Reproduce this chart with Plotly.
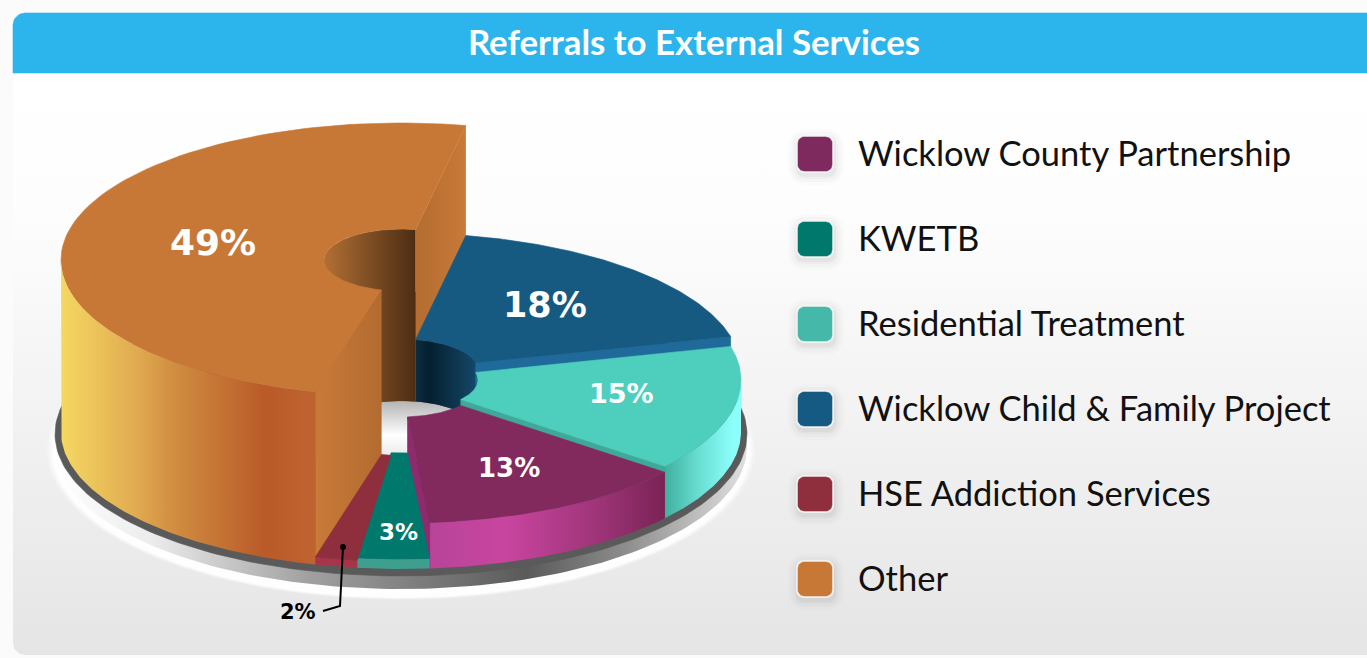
import numpy as np
import plotly.graph_objects as go

# ---- data ----
categories = ["Wicklow County Partnership", "KWETB", "Residential Treatment",
              "Wicklow Child & Family Project", "HSE Addiction Services", "Other"]
shares = [12.8, 3.4, 14.8, 18.0, 2.0, 49.0]
top_colors = ["#822A5E", "#00796C", "#4ECFBE", "#165A82", "#8F2F3E", "#C87836"]
key_colors = ["#7F2A5F", "#00786C", "#46B8A9", "#155A82", "#8F2F3E", "#C87836"]

# ---- styling ----
W, H = 1367, 658
CX, RX, RY = 401.0, 340.0, 137.0
HOLE = 0.2265
START = 11.0
BASE = 432.0
draw_clockwise = [3, 2, 0, 1, 4, 5]
level = {0: 386, 1: 422, 2: 380, 3: 370, 4: 424.5, 5: 260}
label_pos = {0: (0.676, 0, 1), 1: (0.80, 0, 4), 2: (0.665, -6, 0), 3: (0.617, -4, 0), 5: (0.567, 0, 0)}
label_size = {0: 26, 1: 23, 2: 27, 3: 35, 5: 36}
side_colors = {1: "#3F9F8F", 2: "#3FA898", 3: "#1F6A9A", 4: "#A8344A"}
FONT = "Lato"
PCT = "DejaVu Sans"

# slice angles, clockwise from the top, in degrees
spans = {}
a = START
for i in draw_clockwise:
    spans[i] = (a, a + shares[i] * 3.6)
    a += shares[i] * 3.6


def P(theta, r, cy):
    t = np.radians(theta)
    return CX + r * RX * np.sin(t), cy - r * RY * np.cos(t)


def arc(t0, t1, r, cy, n=90):
    th = np.linspace(t0, t1, n)
    return P(th, r, cy)


fig = go.Figure()


def poly(x, y, color=None, grad=None, opacity=1.0, name=None):
    x = list(x) + [x[0]]
    y = list(y) + [y[0]]
    kw = dict(x=x, y=y, mode="lines", fill="toself", hoverinfo="skip",
              showlegend=False, opacity=opacity)
    if name:
        kw["name"] = name
    if grad:
        kw["line"] = dict(width=0)
        kw["fillgradient"] = dict(type=grad[0], start=grad[1], stop=grad[2], colorscale=grad[3])
    else:
        kw["fillcolor"] = color
        kw["line"] = dict(width=0.6 if opacity == 1.0 else 0, color=color)
    fig.add_trace(go.Scatter(**kw))


def rrect(x0, y0, x1, y1, r, corners=(1, 1, 1, 1)):
    xs, ys = [], []
    cs = [(x0 + r, y0 + r, 180, 270, corners[0]), (x1 - r, y0 + r, 270, 360, corners[1]),
          (x1 - r, y1 - r, 0, 90, corners[2]), (x0 + r, y1 - r, 90, 180, corners[3])]
    sq = [(x0, y0), (x1, y0), (x1, y1), (x0, y1)]
    for (cx, cy, a0, a1, on), s in zip(cs, sq):
        if on:
            t = np.radians(np.linspace(a0, a1, 12))
            xs += list(cx + r * np.cos(t))
            ys += list(cy + r * np.sin(t))
        else:
            xs.append(s[0])
            ys.append(s[1])
    return xs, ys


def ellipse(cx, cy, rx, ry):
    t = np.linspace(0, 2 * np.pi, 240)
    return cx + rx * np.cos(t), cy + ry * np.sin(t)


def wedge(i):
    t0, t1 = spans[i]
    x1, y1 = arc(t0, t1, 1, level[i])
    x2, y2 = arc(t1, t0, HOLE, level[i])
    poly(np.r_[x1, x2], np.r_[y1, y2], top_colors[i], name=categories[i])


def face(i, theta, color=None, grad=None):
    cy = level[i]
    xa, ya = P(theta, HOLE, cy)
    xb, yb = P(theta, 1, cy)
    xc, yc = P(theta, 1, BASE)
    xd, yd = P(theta, HOLE, BASE)
    poly([xa, xb, xc, xd], [ya, yb, yc, yd], color, grad)


def wall(i, t0, t1, grad, r=1.0):
    x1, y1 = arc(t0, t1, r, level[i])
    x2, y2 = arc(t1, t0, r, BASE)
    poly(np.r_[x1, x2], np.r_[y1, y2], grad=grad)


# card
x, y = rrect(13, 13, 1400, 655, 12, (1, 0, 0, 1))
poly(x, y, grad=("vertical", 70, 655, [[0, "#FFFFFF"], [0.25, "#FDFDFD"], [0.6, "#F2F2F2"], [1, "#E5E5E5"]]))
x, y = rrect(13, 13, 1400, 73, 12, (1, 0, 0, 0))
poly(x, y, "#2CB5EC")

# plate under the pie
for grow, op in [(7, 0.25), (5, 0.35), (3, 0.5), (1.5, 0.8)]:
    x, y = ellipse(401, 450, 347 + grow, 147 + grow * 0.4)
    poly(x, y, "#FFFFFF", opacity=op)
x, y = ellipse(401, 447, 346, 142)
poly(x, y, grad=("horizontal", 55, 748,
                 [[0, "#FFFFFF"], [0.14, "#ECECEC"], [0.36, "#A2A2A2"], [0.68, "#5A5A5A"],
                  [0.82, "#8C8C8C"], [1, "#E0E0E0"]]))
x, y = ellipse(401, 434, 346, 142)
poly(x, y, "#5A5A5A")

# floor of the central hole
x, y = ellipse(CX, BASE, HOLE * RX, HOLE * RY)
poly(x, y, grad=("vertical", 401, 463, [[0, "#B4B4B4"], [0.55, "#FFFFFF"], [1, "#E4E4E4"]]))

# far walls of the hole, and the raised "Other" slice
o0, o1 = spans[5]
b0, b1 = spans[3]
wall(5, 270, o1, ("horizontal", 323, 415, [[0, "#B47034"], [0.5, "#7E4E24"], [1, "#4E2D13"]]), r=HOLE)
face(5, o1, grad=("horizontal", 415, 466, [[0, "#B46C30"], [1, "#C87A38"]]))
wall(3, b0, 90, ("horizontal", 415, 478, [[0, "#0D2F42"], [0.22, "#041F2E"], [1, "#15496B"]]), r=HOLE)
wedge(5)
wall(5, o0, 270, ("horizontal", 61, 316,
                  [[0, "#F5D862"], [0.3, "#E0AA50"], [0.45, "#D08C40"], [0.8, "#B95A28"], [1, "#BF6430"]]))
face(5, o0, grad=("horizontal", 316, 382, [[0, "#C87A38"], [1, "#B36B30"]]))

# right-hand slices
face(3, b1, side_colors[3])
wedge(3)
t0, t1 = spans[2]
wall(2, 90, t1, ("horizontal", 664, 741, [[0, "#3FAE9E"], [0.45, "#68DED2"], [0.9, "#8DFFFB"], [1, "#8DFFFB"]]))
face(2, t1, side_colors[2])
wedge(2)
p0, p1 = spans[0]
wall(0, p0, p1, ("horizontal", 430, 665,
                 [[0, "#B8449A"], [0.32, "#C8459F"], [0.7, "#A0357A"], [1, "#7A2355"]]))
face(0, p1, "#8F2A6E")
wedge(0)
g0, g1 = spans[1]
wall(1, g0, g1, ("horizontal", 359, 431, [[0, "#3F9F8F"], [1, "#3F9F8F"]]))
wedge(1)
r0, r1 = spans[4]
wall(4, r0, r1, ("horizontal", 313, 360, [[0, "#A8344A"], [1, "#A8344A"]]))
wedge(4)

# leader line of the small slice
fig.add_trace(go.Scatter(x=[343, 340, 323], y=[547, 606, 611], mode="lines",
                         line=dict(color="#000000", width=2), hoverinfo="skip", showlegend=False))
fig.add_trace(go.Scatter(x=[343], y=[547], mode="markers", hoverinfo="skip", showlegend=False,
                         marker=dict(size=6, color="#000000", line=dict(width=0))))

annotations = []
for i, (fr, dy, dx) in label_pos.items():
    t = sum(spans[i]) / 2
    xl, yl = P(t, fr, level[i])
    annotations.append(dict(x=float(xl + dx), y=float(yl + dy), text=f"{round(shares[i])}%", showarrow=False,
                            font=dict(family=PCT, size=label_size[i], color="#FFFFFF", weight="bold")))
annotations.append(dict(x=298, y=612, text=f"{round(shares[4])}%", showarrow=False,
                        font=dict(family=PCT, size=21, color="#000000", weight="bold")))

# key
for k, name in enumerate(categories):
    yc = 154 + 85 * k
    for g, op in [(10, 0.012), (7, 0.018), (4, 0.025), (2, 0.03)]:
        x, y = rrect(797 - g + 1, yc - 18 - g + 3, 833 + g + 1, yc + 18 + g + 3, 6 + g)
        poly(x, y, "#000000", opacity=op)
    x, y = rrect(796.5, yc - 18.5, 833.5, yc + 18.5, 7)
    poly(x, y, "#F7F7F7")
    x, y = rrect(798, yc - 17, 832, yc + 17, 6)
    poly(x, y, key_colors[k])
    annotations.append(dict(x=856, y=yc - 2, text=name, showarrow=False, xanchor="left",
                            font=dict(family=FONT, size=34.5, color="#111111")))

fig.update_layout(
    width=W, height=H, margin=dict(l=0, r=0, t=0, b=0, pad=0),
    paper_bgcolor="#FBFBFB", plot_bgcolor="rgba(0,0,0,0)",
    xaxis=dict(range=[0, W], visible=False, fixedrange=True),
    yaxis=dict(range=[H, 0], visible=False, fixedrange=True),
    showlegend=False, annotations=annotations,
    title=dict(text="<b>Referrals to External Services</b>", x=694 / W, xanchor="center",
               y=1 - 43 / H, yanchor="middle", font=dict(family=FONT, size=34.8, color="#FFFFFF")),
)
fig.write_html("out.html", config=dict(displayModeBar=False),
               post_script="document.body.style.margin='0';document.body.style.overflow='hidden';")
